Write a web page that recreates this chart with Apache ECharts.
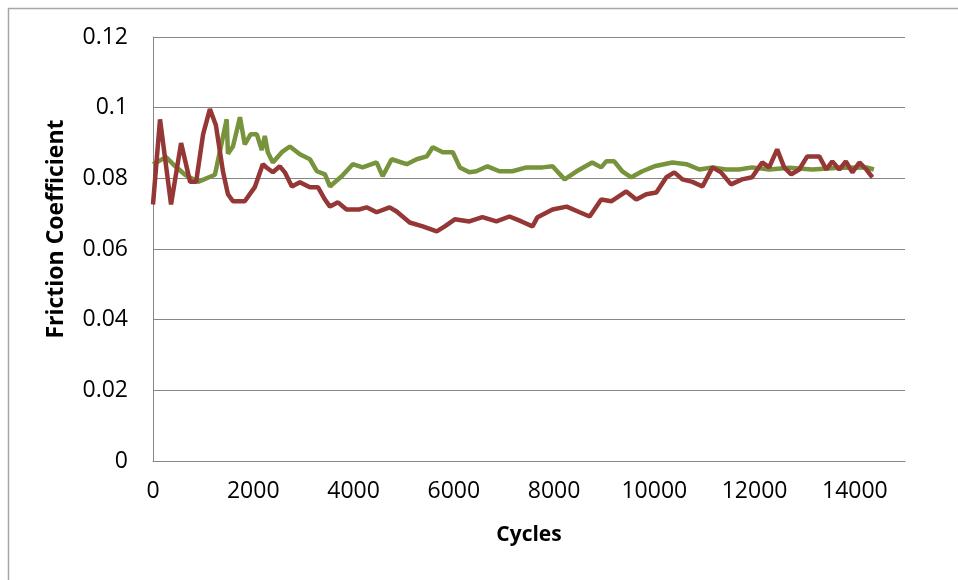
<!DOCTYPE html>
<html lang="en">
<head>
    <meta charset="UTF-8">
    <title>Friction Coefficient vs Cycles</title>
    <script src="https://cdn.jsdelivr.net/npm/echarts@6/dist/echarts.min.js"></script>
    <style>
        html, body { margin: 0; padding: 0; background: #fff; }
        #main { width: 958px; height: 580px; }
    </style>
</head>
<body>
    <div id="main"></div>
    <script>
        // green series (drawn first, red sits on top of it)
        var greenCycles = [0, 260, 400, 640, 900, 1235, 1470, 1495, 1595, 1735, 1830, 1950, 2070, 2170, 2230, 2290, 2390,
            2570, 2730, 2930, 3130, 3270, 3430, 3530, 3625, 3765, 3985, 4180, 4460, 4580, 4760, 5060, 5260, 5460,
            5580, 5780, 5980, 6120, 6310, 6450, 6670, 6910, 7170, 7450, 7770, 7970, 8210, 8450, 8760, 8940, 9040,
            9200, 9360, 9540, 9760, 10000, 10360, 10640, 10900, 11160, 11430, 11690, 11950, 12290, 12690, 13150,
            13690, 14230, 14380]
        var greenFriction = [0.084, 0.086, 0.084, 0.081, 0.079, 0.081, 0.0967, 0.087, 0.089, 0.0973, 0.0896, 0.0925, 0.0925,
            0.088, 0.092, 0.0874, 0.0845, 0.0874, 0.089, 0.0868, 0.0854, 0.082, 0.0811, 0.0777, 0.0789, 0.0806,
            0.084, 0.0831, 0.0845, 0.0806, 0.0854, 0.084, 0.0854, 0.0862, 0.0888, 0.0874, 0.0874, 0.0831, 0.0817,
            0.082, 0.0834, 0.082, 0.082, 0.0831, 0.0831, 0.0834, 0.0797, 0.082, 0.0845, 0.0831, 0.0848, 0.0848,
            0.082, 0.0803, 0.082, 0.0834, 0.0845, 0.084, 0.0825, 0.0831, 0.0825, 0.0825, 0.0831, 0.0825, 0.083,
            0.0825, 0.083, 0.0831, 0.0825]

        // red series
        var redCycles = [0, 140, 360, 560, 740, 860, 1000, 1135, 1255, 1395, 1495, 1595, 1830, 2030, 2190, 2270, 2390,
            2530, 2630, 2770, 2930, 3130, 3290, 3430, 3530, 3690, 3860, 4120, 4260, 4460, 4720, 4860, 5120, 5380,
            5660, 5820, 6020, 6310, 6570, 6850, 7110, 7350, 7570, 7670, 7970, 8250, 8510, 8710, 8940, 9140, 9440,
            9640, 9840, 10040, 10240, 10400, 10560, 10760, 10960, 11160, 11330, 11530, 11750, 11950, 12150, 12290,
            12450, 12590, 12730, 12890, 13050, 13290, 13430, 13550, 13690, 13820, 13950, 14090, 14230, 14350]
        var redFriction = [0.0726, 0.0967, 0.0726, 0.090, 0.079, 0.079, 0.0925, 0.0996, 0.095, 0.082, 0.0755, 0.0735, 0.0735,
            0.0775, 0.084, 0.083, 0.0817, 0.0834, 0.0817, 0.0777, 0.0789, 0.0775, 0.0775, 0.074, 0.072, 0.0732,
            0.0712, 0.0712, 0.0718, 0.0704, 0.0718, 0.0706, 0.0675, 0.0664, 0.065, 0.0664, 0.0684, 0.0678, 0.069,
            0.0678, 0.0692, 0.0678, 0.0664, 0.069, 0.0712, 0.072, 0.0704, 0.0692, 0.074, 0.0735, 0.0763, 0.074,
            0.0755, 0.076, 0.0803, 0.0817, 0.0797, 0.079, 0.0777, 0.0831, 0.0817, 0.0783, 0.0797, 0.0803, 0.0845,
            0.0831, 0.0882, 0.0831, 0.0811, 0.0825, 0.0862, 0.0862, 0.0825, 0.0848, 0.0825, 0.0848, 0.0817, 0.0845,
            0.0825, 0.0803]

        function pairs(xs, ys) {
            return xs.map(function (x, i) { return [x, ys[i]] })
        }

        var myChart = echarts.init(document.getElementById('main'))
        var axisGray = '#868686'
        var font = '"Open Sans", sans-serif'

        var option = {
            animation: false,
            backgroundColor: '#fff',
            graphic: [{
                type: 'rect',
                shape: { x: 8.5, y: 8.5, width: 1000, height: 1000 },
                style: { fill: 'none', stroke: '#a6a6a6', lineWidth: 1.5 },
                silent: true
            }, {
                // y axis title sits a little above the plot centre, like the original
                type: 'text',
                x: 56,
                y: 229,
                rotation: Math.PI / 2,
                style: {
                    text: 'Friction Coefficient',
                    fontFamily: font,
                    fontWeight: 'bold',
                    fontSize: 23,
                    fill: '#000',
                    align: 'center',
                    verticalAlign: 'middle'
                },
                silent: true
            }],
            grid: { left: 153, top: 37, right: 53, bottom: 119 },
            xAxis: {
                type: 'value',
                min: 0,
                max: 15000,
                interval: 2000,
                name: 'Cycles',
                nameLocation: 'middle',
                nameGap: 64,
                nameTextStyle: { fontFamily: font, fontWeight: 'bold', fontSize: 21, color: '#000' },
                axisLine: { show: true, lineStyle: { color: axisGray, width: 1 } },
                axisTick: { show: false },
                splitLine: { show: false },
                axisLabel: {
                    showMaxLabel: false,
                    fontFamily: font,
                    fontSize: 23,
                    color: '#000',
                    margin: 19,
                    formatter: function (v) { return String(v) }
                }
            },
            yAxis: {
                type: 'value',
                min: 0,
                max: 0.12,
                interval: 0.02,
                axisLine: { show: true, lineStyle: { color: axisGray, width: 1 } },
                axisTick: { show: false },
                splitLine: { show: true, lineStyle: { color: axisGray, width: 1 } },
                axisLabel: { fontFamily: font, fontSize: 23, color: '#000', margin: 25 }
            },
            series: [{
                name: 'green',
                type: 'line',
                showSymbol: false,
                lineStyle: { color: '#77933C', width: 4.5 },
                data: pairs(greenCycles, greenFriction)
            }, {
                name: 'red',
                type: 'line',
                showSymbol: false,
                lineStyle: { color: '#953735', width: 4.5 },
                data: pairs(redCycles, redFriction)
            }]
        }
        myChart.setOption(option)
    </script>
</body>
</html>
